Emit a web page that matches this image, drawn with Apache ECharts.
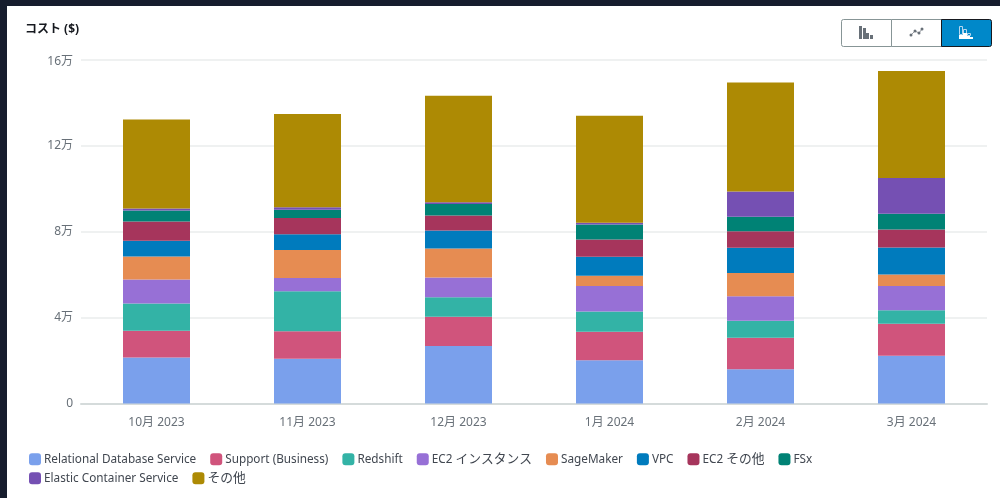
<!DOCTYPE html>
<html><head><meta charset="utf-8">
<style>html,body{margin:0;padding:0;background:#161d2d}#c{width:1000px;height:498px}</style>
<script src="https://cdn.jsdelivr.net/npm/echarts@6/dist/echarts.min.js"></script>
</head><body><div id="c"></div>
<script>
const categories = ['10月 2023','11月 2023','12月 2023','1月 2024','2月 2024','3月 2024'];
const rds      = [21400,20800,26800,20100,16000,22200];
const support  = [12500,12900,13600,13300,14600,15000];
const redshift = [12700,18600, 9100, 9500, 7900, 6200];
const ec2Inst  = [11200, 6200, 9200,11800,11500,11300];
const sagemaker= [10700,13000,13500, 4800,10800, 5400];
const vpc      = [ 7300, 7300, 8400, 8800,11800,12600];
const ec2Other = [ 9000, 7600, 7000, 8100, 7600, 8400];
const fsx      = [ 5100, 3900, 5300, 7000, 6800, 7300];
const ecs      = [  900, 1100,  800,  800,11800,16600];
const other    = [41500,43400,49700,49800,50700,49900];
const seriesNames = ['Relational Database Service','Support (Business)','Redshift','EC2 インスタンス','SageMaker','VPC','EC2 その他','FSx','Elastic Container Service','その他'];
const seriesValues = [rds,support,redshift,ec2Inst,sagemaker,vpc,ec2Other,fsx,ecs,other];
const colors = ['#7aa0ec','#d0547c','#33b3a6','#9770d6','#e68c52','#007bbd','#a6355c','#008275','#7550b3','#ad8a04'];
const FONT = '"Noto Sans","Noto Sans CJK JP",sans-serif';
const legendText = '#414750';
const legendBase = {orient:'horizontal',left:24,itemWidth:12,itemHeight:12,itemGap:14,icon:'roundRect',
  formatter:n=>n.replace(/[\u3040-\u9fff]+/g,m=>'{j|'+m+'}'),
  textStyle:{fontFamily:FONT,fontSize:11.75,color:legendText,padding:[0,0,0,-2],
    rich:{j:{fontFamily:FONT,fontSize:12.75,color:legendText}}}};
const gray='#687078';
const bar=(x,y,w,h,fill)=>({type:'rect',shape:{x,y,width:w,height:h},style:{fill},z:10});
const dot=(x,y)=>({type:'circle',shape:{cx:x,cy:y,r:1.5},style:{fill:gray},z:10});
const chart = echarts.init(document.getElementById('c'),null,{renderer:'canvas'});
chart.setOption({
  animation:false,
  backgroundColor:'#161d2d',
  color:colors,
  title:{text:'コスト ($)',left:20,top:19,textStyle:{fontFamily:FONT,fontSize:12,fontWeight:'bold',color:'#16191f'}},
  legend:[
    Object.assign({},legendBase,{top:448,data:seriesNames.slice(0,8)}),
    Object.assign({},legendBase,{top:467,data:seriesNames.slice(8)})
  ],
  grid:{left:81,right:13,top:60,bottom:94.5},
  xAxis:{type:'category',data:categories,
    axisLine:{lineStyle:{color:'#d5dbdb',width:2}},
    axisTick:{alignWithLabel:true,length:5,lineStyle:{color:'#eaeded',width:1}},
    axisLabel:{fontFamily:FONT,fontSize:12,color:gray,margin:13}},
  yAxis:{type:'value',min:0,max:160000,interval:40000,
    axisLine:{show:false},axisTick:{show:false},
    splitLine:{lineStyle:{color:'#eaeded',width:1.5}},
    axisLabel:{fontFamily:FONT,fontSize:12,color:gray,margin:8,verticalAlignMaxLabel:'middle',
      rich:{top:{fontFamily:FONT,fontSize:12,color:gray,padding:[4,0,0,0]}},
      formatter:v=>v===0?'0':(v===160000?'{top|'+(v/10000)+'万}':(v/10000)+'万')}},
  series:seriesNames.map((n,i)=>({name:n,type:'bar',stack:'cost',barWidth:67,data:seriesValues[i],
    itemStyle:{color:colors[i]}})),
  graphic:[
    {type:'rect',shape:{x:7,y:6,width:993,height:492},style:{fill:'#ffffff'},z:-1,silent:true},
    {type:'rect',shape:{x:841.5,y:19.5,width:50,height:27,r:[2,0,0,2]},style:{fill:'#fff',stroke:'#879596',lineWidth:1},z:9},
    {type:'rect',shape:{x:891.5,y:19.5,width:50,height:27},style:{fill:'#fff',stroke:'#879596',lineWidth:1},z:9},
    {type:'rect',shape:{x:941.5,y:19.5,width:50,height:27,r:[0,2,2,0]},style:{fill:'#0088c9',stroke:'#16191f',lineWidth:1},z:9},
    bar(859,26,3,13,gray),bar(863,28,3,11,gray),bar(866,33,3,6,gray),bar(870,35,3,4,gray),
    {type:'polyline',shape:{points:[[911,35],[915,31],[919,33],[922,29]]},style:{stroke:gray,lineWidth:0.7,fill:'none'},z:10},
    dot(911,35),dot(915,31),dot(919,33),dot(922,29),
    {type:'rect',shape:{x:959.5,y:26.5,width:3,height:8},style:{fill:'none',stroke:'#b7d6ef',lineWidth:1},z:10},
    {type:'rect',shape:{x:963.5,y:29.5,width:3,height:4},style:{fill:'none',stroke:'#b7d6ef',lineWidth:1},z:10},
    {type:'rect',shape:{x:967.5,y:33.5,width:3,height:2},style:{fill:'none',stroke:'#b7d6ef',lineWidth:1},z:10},
    bar(959,35,4,4,'#fff'),bar(963,33,4,6,'#fff'),bar(967,36,3,3,'#fff'),bar(970,37,3,2,'#fff')
  ]
});
</script></body></html>
